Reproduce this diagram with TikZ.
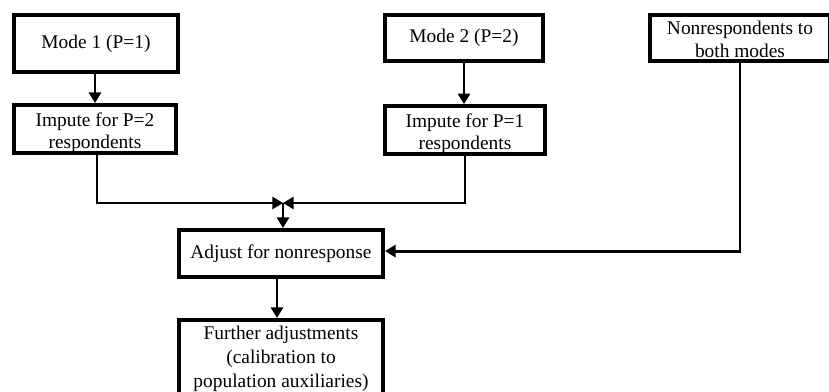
\documentclass[tikz,border=0pt]{standalone}
\usepackage{fontspec}
\setmainfont{Liberation Serif}
\usetikzlibrary{arrows.meta}

\begin{document}
\begin{tikzpicture}[box/.style={draw,line width=2.8pt,align=center,inner sep=0,font=\fontsize{13.8}{16}\selectfont},
    link/.style={line width=2pt,-{Triangle[length=7.5pt,width=8.5pt]}}]
        \clip (0,0) rectangle (20.725,9.775);
        \node[box,minimum width=4.1cm,minimum height=1.425cm] (mode1) at (2.4,8.69) {Mode 1 (P=1)};
        \node[box,minimum width=3.95cm,minimum height=1.15cm] (mode2) at (11.6,8.825) {Mode 2 (P=2)};
        \node[box,minimum width=4.5cm,minimum height=1.15cm] (nonr) at (18.5,8.825) {\rule{0pt}{11.5pt}Nonrespondents to\\both modes};
        \node[box,minimum width=4.05cm,minimum height=1.2cm] (imp2) at (2.375,6.55) {\rule{0pt}{15pt}Impute for P=2\\respondents};
        \node[box,minimum width=4.0cm,minimum height=1.15cm] (imp1) at (11.625,6.525) {\rule{0pt}{15pt}Impute for P=1\\respondents};
        \node[box,minimum width=5.1cm,minimum height=1.175cm] (adj) at (7.025,3.4375) {Adjust for nonresponse};
        \node[box,minimum width=5.1cm,minimum height=1.85cm,font=\fontsize{13.8}{17.2}\selectfont] (further) at (7.025,0.85) {\rule{0pt}{12pt}Further adjustments\\(calibration to\\population auxiliaries)};
        \coordinate (merge) at (7.075,4.7);
        % mode boxes feed the imputations
        \draw[link] (mode1.south -| 2.375,0) -- (imp2.north);
        \draw[link] (mode2.south) -- (mode2.south |- imp1.north);
        \draw[link] (imp2.south -| 2.425,0) |- (merge);
        \draw[link] (imp1.south) |- (merge);
        \draw[link] (merge) -- (merge |- adj.north);
        \draw[link] (nonr.south) |- ([yshift=0.06cm]adj.east);
        \draw[link] (adj.south -| 6.925,0) -- (further.north -| 6.925,0);
\end{tikzpicture}
\end{document}
